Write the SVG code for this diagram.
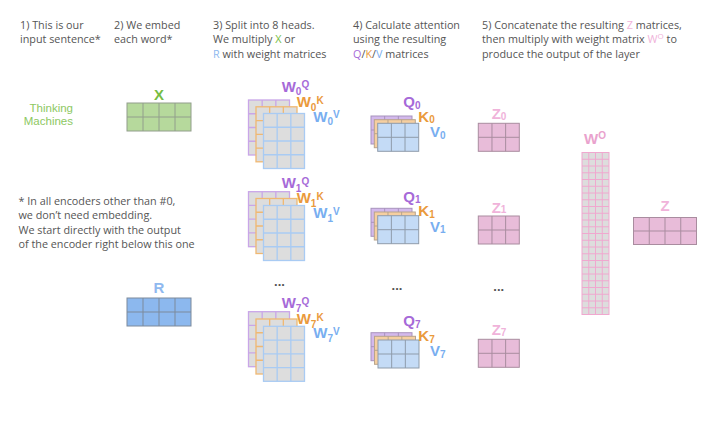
<svg xmlns="http://www.w3.org/2000/svg" xmlns:xlink="http://www.w3.org/1999/xlink" width="722" height="422" viewBox="0 0 722 422">
<style>
.hd{font-family:"Open Sans","Liberation Sans",sans-serif;font-size:10.8px;fill:#555}
.lab{font-family:"Liberation Sans",Arial,sans-serif;font-size:15px;font-weight:bold}
.sub{font-size:10px}
.sup{font-size:10px}
.pu{fill:#a66ad8}.or{fill:#ea9a3c}.bl{fill:#78aef0}.gr{fill:#76bd43}.rb{fill:#8fb9ef}.pk{fill:#f0b3da}.pk2{fill:#e9a2cd}
.dots{font-family:"Liberation Sans",Arial,sans-serif;font-size:13px;font-weight:bold;fill:#555}
.wq{fill:#dddddd;stroke:#c9a6e8;stroke-width:1.3}
.wk{fill:#dddddd;stroke:#f0b872;stroke-width:1.3}
.wv{fill:#dddddd;stroke:#a9cbf3;stroke-width:1.3}
.mq{fill:#d3b9ec;stroke:#a893bd;stroke-width:1}
.mk{fill:#f6cfa0;stroke:#b8a48c;stroke-width:1}
.mv{fill:#c4dbf6;stroke:#8f9cab;stroke-width:1}
.mz{fill:#e8bcd9;stroke:#a98c9f;stroke-width:1}
</style>
<defs>
<g id="wm"><rect width="41" height="55"/><path d="M13.67 0V55M27.33 0V55M0 13.75H41M0 27.5H41M0 41.25H41" fill="none"/></g>
<g id="qm"><rect width="41" height="28"/><path d="M13.67 0V28M27.33 0V28M0 14H41" fill="none"/></g>
</defs>
<rect width="722" height="422" fill="#ffffff"/>

<g id="headers">
<text class="hd" x="20" y="28.5">1) This is our</text>
<text class="hd" x="20" y="43.3">input sentence*</text>
<text class="hd" x="114" y="28.5">2) We embed</text>
<text class="hd" x="114" y="43.3">each word*</text>
<text class="hd" x="213" y="28.5">3) Split into 8 heads.</text>
<text class="hd" x="213" y="43.3">We multiply <tspan class="gr">X</tspan> or</text>
<text class="hd" x="213" y="58"><tspan class="rb">R</tspan> with weight matrices</text>
<text class="hd" x="353" y="28.5">4) Calculate attention</text>
<text class="hd" x="353" y="43.3">using the resulting</text>
<text class="hd" x="353" y="58"><tspan class="pu">Q</tspan>/<tspan class="or">K</tspan>/<tspan class="bl">V</tspan> matrices</text>
<text class="hd" x="482" y="28.5">5) Concatenate the resulting <tspan class="pk">Z</tspan> matrices,</text>
<text class="hd" x="482" y="43.3">then multiply with weight matrix <tspan class="pk">W<tspan font-size="8" dy="-4">O</tspan></tspan><tspan dy="4"> to</tspan></text>
<text class="hd" x="482" y="58">produce the output of the layer</text>
</g>

<g id="footnote">
<text class="hd" x="18.5" y="205">* In all encoders other than #0,</text>
<text class="hd" x="18.5" y="219">we don’t need embedding.</text>
<text class="hd" x="18.5" y="233.5">We start directly with the output</text>
<text class="hd" x="18.5" y="248">of the encoder right below this one</text>
</g>

<g id="sentence">
<text x="73" y="112" text-anchor="end" font-family="Liberation Sans, Arial, sans-serif" font-size="11.5" fill="#8dc862">Thinking</text>
<text x="73" y="125" text-anchor="end" font-family="Liberation Sans, Arial, sans-serif" font-size="11.5" fill="#8dc862">Machines</text>
</g>

<g id="X">
<text class="lab gr" x="159" y="100" text-anchor="middle">X</text>
<rect x="127" y="103" width="64" height="28" fill="#b6d99c" stroke="#929e8c" stroke-width="1"/>
<path d="M143 103V131M159 103V131M175 103V131M127 117H191" stroke="#929e8c" stroke-width="1" fill="none"/>
</g>

<g id="R">
<text class="lab rb" x="159" y="293.3" text-anchor="middle">R</text>
<rect x="127" y="298" width="64" height="28" fill="#8cb8ee" stroke="#7d8a9b" stroke-width="1"/>
<path d="M143 298V326M159 298V326M175 298V326M127 312H191" stroke="#7d8a9b" stroke-width="1" fill="none"/>
</g>

<g id="W0">
<use xlink:href="#wm" class="wq" x="248.5" y="100"/>
<use xlink:href="#wm" class="wk" x="256" y="106.8"/>
<use xlink:href="#wm" class="wv" x="263.5" y="113.5"/>
<text class="lab pu" x="281.7" y="91.7">W<tspan class="sub" dy="3.3">0</tspan><tspan class="sup" dy="-6.7">Q</tspan></text>
<text class="lab or" x="296.7" y="107.3">W<tspan class="sub" dy="3.3">0</tspan><tspan class="sup" dy="-6.7">K</tspan></text>
<text class="lab bl" x="313.3" y="121.7">W<tspan class="sub" dy="3.3">0</tspan><tspan class="sup" dy="-6.7">V</tspan></text>
</g>

<g id="W1">
<use xlink:href="#wm" class="wq" x="248.5" y="191.7"/>
<use xlink:href="#wm" class="wk" x="256" y="198.5"/>
<use xlink:href="#wm" class="wv" x="263.5" y="205.5"/>
<text class="lab pu" x="281.7" y="188.3">W<tspan class="sub" dy="3.3">1</tspan><tspan class="sup" dy="-6.7">Q</tspan></text>
<text class="lab or" x="296.7" y="203.3">W<tspan class="sub" dy="3.3">1</tspan><tspan class="sup" dy="-6.7">K</tspan></text>
<text class="lab bl" x="313.3" y="218.3">W<tspan class="sub" dy="3.3">1</tspan><tspan class="sup" dy="-6.7">V</tspan></text>
</g>

<g id="W7">
<text class="dots" x="279.5" y="286" text-anchor="middle">...</text>
<use xlink:href="#wm" class="wq" x="248.5" y="311.7"/>
<use xlink:href="#wm" class="wk" x="256" y="319"/>
<use xlink:href="#wm" class="wv" x="263.5" y="326.3"/>
<text class="lab pu" x="281.7" y="308.3">W<tspan class="sub" dy="3.3">7</tspan><tspan class="sup" dy="-6.7">Q</tspan></text>
<text class="lab or" x="296.7" y="324.3">W<tspan class="sub" dy="3.3">7</tspan><tspan class="sup" dy="-6.7">K</tspan></text>
<text class="lab bl" x="313.3" y="338.3">W<tspan class="sub" dy="3.3">7</tspan><tspan class="sup" dy="-6.7">V</tspan></text>
</g>

<g id="QKV0">
<use xlink:href="#qm" class="mq" x="371" y="116"/>
<use xlink:href="#qm" class="mk" x="374.3" y="119.7"/>
<use xlink:href="#qm" class="mv" x="377.7" y="123.3"/>
<text class="lab pu" x="403.3" y="107">Q<tspan class="sub" dy="1.5">0</tspan></text>
<text class="lab or" x="418.3" y="121.5">K<tspan class="sub" dy="1.5">0</tspan></text>
<text class="lab bl" x="430" y="137">V<tspan class="sub" dy="1.5">0</tspan></text>
</g>

<g id="QKV1">
<use xlink:href="#qm" class="mq" x="371" y="208.3"/>
<use xlink:href="#qm" class="mk" x="374.3" y="212"/>
<use xlink:href="#qm" class="mv" x="377.7" y="215.7"/>
<text class="lab pu" x="403.3" y="201.5">Q<tspan class="sub" dy="1.5">1</tspan></text>
<text class="lab or" x="418.3" y="216">K<tspan class="sub" dy="1.5">1</tspan></text>
<text class="lab bl" x="430" y="231.5">V<tspan class="sub" dy="1.5">1</tspan></text>
</g>

<g id="QKV7">
<text class="dots" x="397" y="289.5" text-anchor="middle">...</text>
<use xlink:href="#qm" class="mq" x="371" y="332.7"/>
<use xlink:href="#qm" class="mk" x="374.5" y="336.3"/>
<use xlink:href="#qm" class="mv" x="378" y="340"/>
<text class="lab pu" x="403.3" y="326">Q<tspan class="sub" dy="1.5">7</tspan></text>
<text class="lab or" x="418.3" y="341">K<tspan class="sub" dy="1.5">7</tspan></text>
<text class="lab bl" x="430" y="356">V<tspan class="sub" dy="1.5">7</tspan></text>
</g>

<g id="Z0">
<text class="lab pk" x="491.7" y="119.3">Z<tspan class="sub" dy="0.5">0</tspan></text>
<use xlink:href="#qm" class="mz" x="478.3" y="123.3"/>
</g>
<g id="Z1">
<text class="lab pk" x="491.7" y="212.7">Z<tspan class="sub" dy="0.5">1</tspan></text>
<use xlink:href="#qm" class="mz" x="478.3" y="216"/>
</g>
<g id="Z7">
<text class="dots" x="498.7" y="290.5" text-anchor="middle">...</text>
<text class="lab pk" x="491.7" y="335">Z<tspan class="sub" dy="0.5">7</tspan></text>
<use xlink:href="#qm" class="mz" x="478.3" y="339.3"/>
</g>

<g id="WO">
<text class="lab pk2" x="584" y="144">W<tspan class="sup" dy="-5.5">O</tspan></text>
<rect x="582" y="152.5" width="27" height="162" fill="#dddddd" stroke="#f0a8cf" stroke-width="1"/>
<path fill="none" stroke="#f0a8cf" stroke-width="1" d="M588.75 152.5V314.5M595.5 152.5V314.5M602.25 152.5V314.5M582 159.25H609M582 166H609M582 172.75H609M582 179.5H609M582 186.25H609M582 193H609M582 199.75H609M582 206.5H609M582 213.25H609M582 220H609M582 226.75H609M582 233.5H609M582 240.25H609M582 247H609M582 253.75H609M582 260.5H609M582 267.25H609M582 274H609M582 280.75H609M582 287.5H609M582 294.25H609M582 301H609M582 307.75H609"/>
</g>

<g id="Z">
<text class="lab pk" x="665" y="210.7" text-anchor="middle">Z</text>
<rect x="633.5" y="217.5" width="63" height="27" fill="#e8bcd9" stroke="#a98c9f" stroke-width="1"/>
<path d="M649.25 217.5V244.5M665 217.5V244.5M680.75 217.5V244.5M633.5 231H696.5" stroke="#a98c9f" stroke-width="1" fill="none"/>
</g>
</svg>
